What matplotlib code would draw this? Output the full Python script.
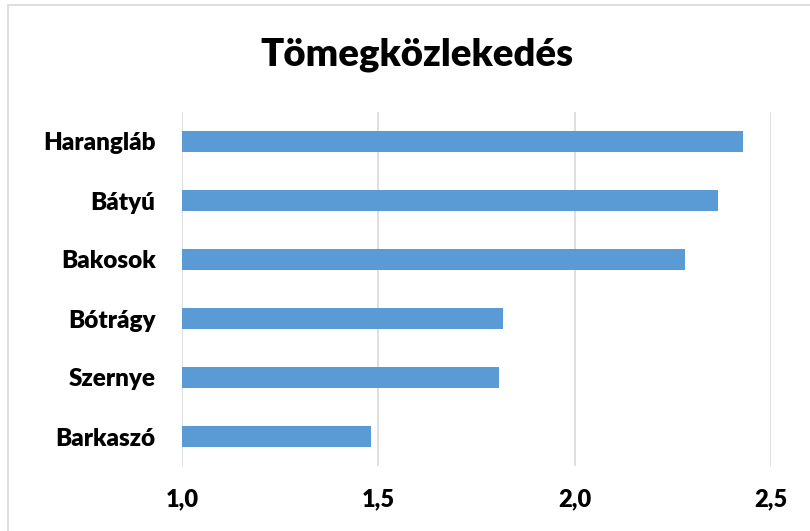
import matplotlib.pyplot as plt
from matplotlib.patches import Rectangle

# Data
telepulesek = ["Barkaszó", "Szernye", "Bótrágy", "Bakosok", "Bátyú", "Harangláb"]
ertekek = [1.481, 1.808, 1.818, 2.281, 2.366, 2.428]
tick_ertekek = [1.0, 1.5, 2.0, 2.5]
tick_cimkek = ["1,0", "1,5", "2,0", "2,5"]

plt.rcParams['font.family'] = ['Lato', 'DejaVu Sans']

fig = plt.figure(figsize=(8.1, 5.31), dpi=100)
W, H = 810, 531

# light grey frame around the chart (runs off right/bottom edge)
fig.patches.append(Rectangle((8 / W, -0.05), 1.1, 1 - 5 / H + 0.05, transform=fig.transFigure,
                             fill=False, edgecolor="#D9D9D9", linewidth=1.2))

ax = fig.add_axes([182 / W, 1 - 466 / H, (771 - 182) / W, (466 - 112) / H])
ax.barh(range(len(telepulesek)), [v - 1.0 for v in ertekek], left=1.0, height=0.34,
        color="#5B9BD5", zorder=3)
ax.set_xlim(1.0, 2.5)
ax.set_ylim(-0.5, len(telepulesek) - 0.5)
ax.set_xticks(tick_ertekek)
ax.set_xticklabels(tick_cimkek, fontsize=17, fontweight="heavy")
ax.set_yticks(range(len(telepulesek)))
ax.set_yticklabels(telepulesek, fontsize=17.5, fontweight="heavy")
ax.tick_params(axis="both", length=0)
ax.tick_params(axis="y", pad=19)
ax.tick_params(axis="x", pad=16)
ax.grid(axis="x", color="#D9D9D9", linewidth=1.2, zorder=0)
for s in ax.spines.values():
    s.set_visible(False)

fig.text(417 / W, 1 - 55 / H, "Tömegközlekedés", ha="center", va="center",
         fontsize=27.5, fontweight="heavy")

fig.savefig("out.png", dpi=100)
